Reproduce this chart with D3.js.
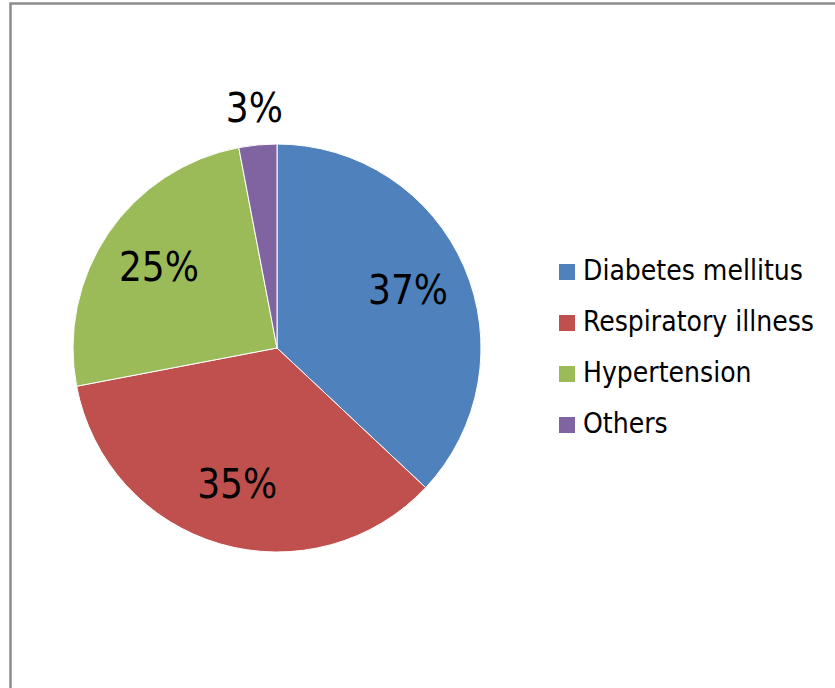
<!DOCTYPE html>
<html>
<head>
<meta charset="utf-8">
<script src="https://cdn.jsdelivr.net/npm/d3@7"></script>
<style>
  html, body { margin: 0; padding: 0; background: #fff; }
  svg { display: block; }
  text { fill: #000; font-family: "DejaVu Sans Condensed", "DejaVu Sans", sans-serif; }
</style>
</head>
<body>
<svg id="chart" width="835" height="688"></svg>
<script>
// Share of cases by condition (percent)
const categories = ["Diabetes mellitus", "Respiratory illness", "Hypertension", "Others"];
const values = [37, 35, 25, 3];
const colors = ["#4F81BD", "#C0504D", "#9BBB59", "#8064A2"];

const svg = d3.select("#chart");

// Outer frame
svg.append("rect")
  .attr("x", 10.5).attr("y", 3.5)
  .attr("width", 840).attr("height", 700)
  .attr("fill", "#fff")
  .attr("stroke", "#8c8c8c")
  .attr("stroke-width", 2.5);

const cx = 277, cy = 348, r = 204;

const pie = d3.pie().sort(null).value(d => d.value);
const arcs = pie(categories.map((c, i) => ({ name: c, value: values[i], color: colors[i] })));
const arc = d3.arc().innerRadius(0).outerRadius(r);

const g = svg.append("g").attr("transform", `translate(${cx},${cy})`);

g.selectAll("path")
  .data(arcs)
  .join("path")
  .attr("d", arc)
  .attr("fill", d => d.data.color)
  .attr("stroke", "#fff")
  .attr("stroke-width", 1);

// Percentage labels: inside for large slices, outside for the small one
const inner = d3.arc().innerRadius(r * 0.7).outerRadius(r * 0.7);
const outer = d3.arc().innerRadius(r * 1.18).outerRadius(r * 1.18);

g.selectAll("text.pct")
  .data(arcs)
  .join("text")
  .attr("class", "pct")
  .attr("transform", d => {
    const p = (d.data.value < 5 ? outer : inner).centroid(d);
    return `translate(${p[0]},${p[1]})`;
  })
  .attr("text-anchor", "middle")
  .attr("dy", "0.33em")
  .attr("font-size", 40)
  .text(d => d.data.value + "%");

// Legend
const legend = svg.append("g").attr("transform", "translate(559,280)");
const rows = legend.selectAll("g")
  .data(categories)
  .join("g")
  .attr("transform", (d, i) => `translate(0,${i * 51})`);

rows.append("rect")
  .attr("x", 0).attr("y", -16)
  .attr("width", 16).attr("height", 16)
  .attr("fill", (d, i) => colors[i]);

rows.append("text")
  .attr("x", 24)
  .attr("font-size", 28)
  .text(d => d);
</script>
</body>
</html>
